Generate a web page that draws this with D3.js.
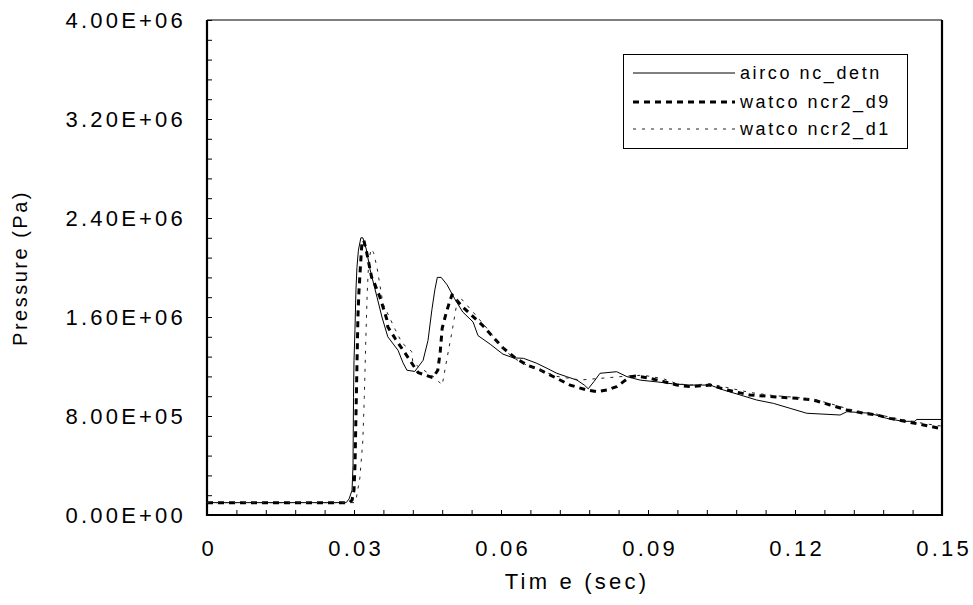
<!DOCTYPE html>
<html>
<head>
<meta charset="utf-8">
<script src="https://cdn.jsdelivr.net/npm/d3@7"></script>
<style>
  body { margin: 0; background: #fff; }
  svg { display: block; }
  text { font-family: "Liberation Sans", Arial, sans-serif; fill: #000; }
  .tick text { font-size: 22px; letter-spacing: 3.2px; }
</style>
</head>
<body>
<svg id="chart" width="973" height="605"></svg>
<script>
// pressure values are in units of 1e6 Pa, time in seconds
var aircon = [
    [0, 0.10], [0.0284, 0.10], [0.0290, 0.13], [0.0296, 0.20], [0.0298, 0.40],
    [0.0299, 0.95], [0.0300, 1.25], [0.0302, 1.50], [0.0304, 1.82], [0.0306, 2.00],
    [0.0309, 2.14], [0.0314, 2.24], [0.0318, 2.24], [0.0325, 2.15], [0.0333, 1.98],
    [0.0347, 1.76], [0.0357, 1.60], [0.0369, 1.44], [0.0390, 1.33], [0.0400, 1.23],
    [0.0408, 1.17], [0.0424, 1.16], [0.0441, 1.25], [0.0451, 1.41], [0.0459, 1.66],
    [0.0465, 1.82], [0.0470, 1.92], [0.0478, 1.92], [0.0490, 1.86], [0.0505, 1.75],
    [0.0522, 1.64], [0.0543, 1.56], [0.0553, 1.45], [0.0578, 1.38], [0.0604, 1.30],
    [0.0625, 1.27], [0.0646, 1.266], [0.0673, 1.226], [0.0694, 1.185], [0.0714, 1.145],
    [0.0734, 1.118], [0.0755, 1.09], [0.0770, 1.05], [0.0778, 1.02], [0.0790, 1.08],
    [0.0802, 1.145], [0.0836, 1.158], [0.0857, 1.118], [0.0884, 1.09], [0.0920, 1.075],
    [0.0950, 1.06], [0.0986, 1.05], [0.1027, 1.05], [0.1054, 1.01], [0.1088, 0.97],
    [0.1122, 0.929], [0.1156, 0.902], [0.1190, 0.862], [0.1224, 0.822], [0.1292, 0.808],
    [0.1306, 0.835], [0.1353, 0.822], [0.1387, 0.781], [0.1420, 0.757], [0.1445, 0.757],
    [0.1448, 0.772], [0.1500, 0.772]
];

var watD9 = [
    [0, 0.10], [0.0290, 0.10], [0.0296, 0.12], [0.0300, 0.20], [0.0302, 0.40],
    [0.0304, 0.80], [0.0306, 1.20], [0.0308, 1.60], [0.0310, 1.80], [0.0313, 2.00],
    [0.0316, 2.19], [0.0320, 2.22], [0.0326, 2.12], [0.0336, 1.92], [0.0342, 1.87],
    [0.0353, 1.76], [0.0367, 1.58], [0.0369, 1.52], [0.0385, 1.42], [0.0404, 1.31],
    [0.0414, 1.25], [0.0431, 1.15], [0.0461, 1.11], [0.0471, 1.17], [0.0476, 1.32],
    [0.0480, 1.51], [0.0488, 1.63], [0.0494, 1.71], [0.0500, 1.78], [0.0522, 1.68],
    [0.0563, 1.53], [0.0604, 1.35], [0.0629, 1.27], [0.0653, 1.212], [0.0680, 1.172],
    [0.0714, 1.104], [0.0741, 1.05], [0.0775, 1.01], [0.0796, 0.997], [0.0816, 1.01],
    [0.0836, 1.037], [0.0850, 1.078], [0.0864, 1.118], [0.0877, 1.123], [0.0904, 1.104],
    [0.0932, 1.078], [0.0959, 1.05], [0.0986, 1.037], [0.1027, 1.05], [0.1061, 1.01],
    [0.1108, 0.97], [0.1156, 0.956], [0.1204, 0.943], [0.1238, 0.929], [0.1272, 0.889],
    [0.1306, 0.849], [0.1340, 0.822], [0.1367, 0.808], [0.1394, 0.781], [0.1428, 0.754],
    [0.1462, 0.727], [0.1496, 0.700], [0.1500, 0.700]
];

var watD1 = [
    [0, 0.10], [0.0300, 0.10], [0.0304, 0.12], [0.0312, 0.30], [0.0318, 0.60],
    [0.0321, 0.95], [0.0324, 1.40], [0.0327, 1.80], [0.0330, 2.05], [0.0335, 2.15],
    [0.0340, 2.12], [0.0347, 2.00], [0.0359, 1.71], [0.0384, 1.50], [0.0398, 1.39],
    [0.0418, 1.32], [0.0420, 1.23], [0.0465, 1.11], [0.0480, 1.05], [0.0490, 1.27],
    [0.0500, 1.48], [0.0506, 1.62], [0.0512, 1.76], [0.0516, 1.76], [0.0543, 1.64],
    [0.0571, 1.51], [0.0598, 1.37], [0.0625, 1.27], [0.0653, 1.21], [0.0680, 1.17],
    [0.0714, 1.12], [0.0762, 1.091], [0.0802, 1.104], [0.0850, 1.12], [0.0890, 1.13],
    [0.0932, 1.10], [0.0960, 1.06], [0.0986, 1.05], [0.1027, 1.06], [0.1061, 1.03],
    [0.1108, 0.99], [0.1156, 0.965], [0.1204, 0.95], [0.1238, 0.935], [0.1272, 0.90],
    [0.1306, 0.86], [0.1340, 0.83], [0.1367, 0.815], [0.1394, 0.79], [0.1428, 0.765],
    [0.1462, 0.74], [0.1496, 0.72], [0.1500, 0.72]
];

var seriesNames = ['airco nc_detn', 'watco ncr2_d9', 'watco ncr2_d1'];
var xTicks = [0, 0.03, 0.06, 0.09, 0.12, 0.15];
var xTickLabels = ['0', '0.03', '0.06', '0.09', '0.12', '0.15'];
var yTicks = [0, 8e5, 1.6e6, 2.4e6, 3.2e6, 4e6];

var svg = d3.select('#chart');

var plotLeft = 207, plotRight = 942, plotTop = 20, plotBottom = 515;

var x = d3.scaleLinear().domain([0, 0.15]).range([plotLeft, plotRight]);
var y = d3.scaleLinear().domain([0, 4e6]).range([plotBottom, plotTop]);

function sci(v) {
    var parts = v.toExponential(2).split('e');
    var sign = parts[1][0];
    var exp = parts[1].slice(1);
    if (exp.length < 2) exp = '0' + exp;
    return parts[0] + 'E' + sign + exp;
}

// minor ticks, pointing inwards
svg.append('g')
    .attr('transform', 'translate(0,' + plotBottom + ')')
    .call(d3.axisBottom(x).tickValues(d3.range(0, 0.1501, 0.006)).tickSize(-5).tickSizeOuter(0).tickFormat(''))
    .call(function (g) { g.select('.domain').remove(); });

svg.append('g')
    .attr('transform', 'translate(' + plotLeft + ',0)')
    .call(d3.axisLeft(y).tickValues(d3.range(0, 4.0001e6, 1.6e5)).tickSize(-5).tickSizeOuter(0).tickFormat(''))
    .call(function (g) { g.select('.domain').remove(); });

// labelled axes
var xAxis = svg.append('g')
    .attr('transform', 'translate(0,' + plotBottom + ')')
    .call(d3.axisBottom(x).tickValues(xTicks).tickSize(-5).tickSizeOuter(0).tickPadding(25)
        .tickFormat(function (d, i) { return xTickLabels[i]; }));
xAxis.select('.domain').remove();
xAxis.selectAll('.tick text').attr('dx', '1.6px');

var yAxis = svg.append('g')
    .attr('transform', 'translate(' + plotLeft + ',0)')
    .call(d3.axisLeft(y).tickValues(yTicks).tickSize(-5).tickSizeOuter(0).tickPadding(21).tickFormat(sci));
yAxis.select('.domain').remove();

// frame
svg.append('line').attr('x1', plotLeft).attr('x2', plotRight).attr('y1', plotTop).attr('y2', plotTop)
    .attr('stroke', '#000').attr('stroke-width', 1.2);
svg.append('path')
    .attr('d', 'M' + plotLeft + ',' + plotTop + 'V' + plotBottom + 'H' + plotRight + 'V' + plotTop)
    .attr('fill', 'none').attr('stroke', '#000').attr('stroke-width', 2.2);

var line = d3.line()
    .x(function (d) { return x(d[0]); })
    .y(function (d) { return y(d[1] * 1e6); });

var styles = [
    { data: aircon, width: 1, dash: null, color: '#000' },
    { data: watD9, width: 3, dash: '6,5', color: '#000' },
    { data: watD1, width: 1, dash: '3,6', color: '#222' }
];

svg.append('g')
    .selectAll('path')
    .data(styles)
    .enter()
    .append('path')
    .attr('d', function (d) { return line(d.data); })
    .attr('fill', 'none')
    .attr('stroke', function (d) { return d.color; })
    .attr('stroke-width', function (d) { return d.width; })
    .attr('stroke-dasharray', function (d) { return d.dash; })
    .attr('stroke-linejoin', 'round');

// legend
var legend = svg.append('g');
legend.append('rect')
    .attr('x', 623.5).attr('y', 54.5).attr('width', 284).attr('height', 94)
    .attr('fill', '#fff').attr('stroke', '#000').attr('stroke-width', 1);

var rowY = [73, 102, 129];
var entries = legend.selectAll('.entry')
    .data(styles)
    .enter()
    .append('g')
    .attr('transform', function (d, i) { return 'translate(0,' + rowY[i] + ')'; });

entries.append('line')
    .attr('x1', 633).attr('x2', 735)
    .attr('stroke', function (d) { return d.color; })
    .attr('stroke-width', function (d) { return d.width; })
    .attr('stroke-dasharray', function (d) { return d.dash; });

entries.append('text')
    .attr('x', 740)
    .attr('dy', '0.36em')
    .style('font-size', '18px')
    .style('letter-spacing', '2.6px')
    .text(function (d, i) { return seriesNames[i]; });

// axis titles
svg.append('text')
    .attr('x', 577).attr('y', 589)
    .attr('text-anchor', 'middle')
    .style('font-size', '22px')
    .style('letter-spacing', '3.2px')
    .text('Tim e (sec)');

svg.append('text')
    .attr('transform', 'translate(27,268) rotate(-90)')
    .attr('text-anchor', 'middle')
    .style('font-size', '20px')
    .style('letter-spacing', '2.5px')
    .text('Pressure (Pa)');
</script>
</body>
</html>
